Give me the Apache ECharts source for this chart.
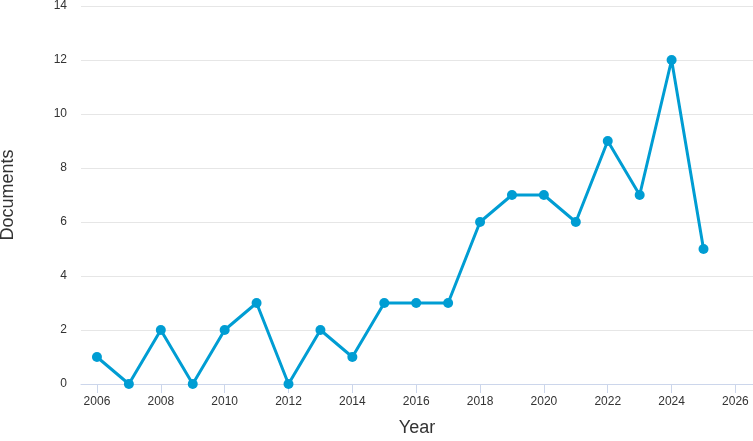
<!DOCTYPE html>
<html>
<head>
<meta charset="utf-8">
<script src="https://cdn.jsdelivr.net/npm/echarts@6/dist/echarts.min.js"></script>
<style>
  html, body { margin: 0; padding: 0; background: #fff; }
  #chart { width: 753px; height: 441px; }
</style>
</head>
<body>
<div id="chart"></div>
<script>
const years = [2006, 2007, 2008, 2009, 2010, 2011, 2012, 2013, 2014, 2015,
               2016, 2017, 2018, 2019, 2020, 2021, 2022, 2023, 2024, 2025];
const documents = [1, 0, 2, 0, 2, 3, 0, 2, 1, 3, 3, 3, 6, 7, 7, 6, 9, 7, 12, 5];
const xTicks = [2006, 2008, 2010, 2012, 2014, 2016, 2018, 2020, 2022, 2024, 2026];

const chart = echarts.init(document.getElementById('chart'), null, { renderer: 'canvas' });

const font = 'Liberation Sans, Arial, sans-serif';

chart.setOption({
  animation: false,
  grid: { left: 81, right: 0, top: 6, bottom: 57, containLabel: false, outerBoundsMode: 'none' },
  xAxis: {
    type: 'value',
    min: 2005.5,
    max: 2026.55,
    name: 'Year',
    nameLocation: 'middle',
    nameGap: 35,
    nameTextStyle: { fontFamily: font, fontSize: 18, color: '#333' },
    axisLine: { show: true, lineStyle: { color: '#ccd6eb', width: 1 } },
    axisTick: { show: true, customValues: xTicks, length: 9, lineStyle: { color: '#ccd6eb' } },
    axisLabel: {
      customValues: xTicks,
      fontFamily: font, fontSize: 12, color: '#333', margin: 12,
      formatter: v => String(v)
    },
    splitLine: { show: false }
  },
  yAxis: {
    type: 'value',
    min: 0,
    max: 14,
    interval: 2,
    name: 'Documents',
    nameLocation: 'middle',
    nameGap: 64,
    nameTextStyle: { fontFamily: font, fontSize: 18, color: '#333' },
    axisLine: { show: false },
    axisTick: { show: false },
    axisLabel: { fontFamily: font, fontSize: 12, color: '#333', margin: 14 },
    splitLine: { lineStyle: { color: '#e6e6e6', width: 1 } }
  },
  series: [{
    type: 'line',
    data: years.map((y, i) => [y, documents[i]]),
    symbol: 'circle',
    symbolSize: 10,
    lineStyle: { color: '#009dd3', width: 3 },
    itemStyle: { color: '#009dd3' }
  }]
});
</script>
</body>
</html>
